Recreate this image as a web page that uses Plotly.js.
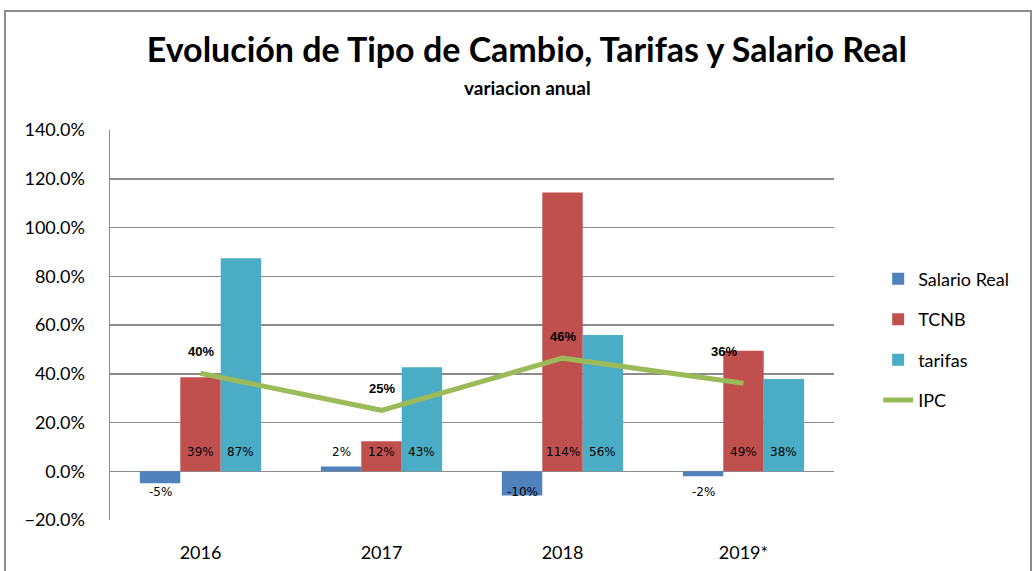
<!DOCTYPE html>
<html><head><meta charset="utf-8">
<script src="https://cdn.plot.ly/plotly-3.0.1.min.js"></script>
<style>
body{margin:0;background:#fff;}
#chart{width:1035px;height:571px;}
#frame{position:absolute;left:4px;top:10px;width:1024px;height:600px;border:2px solid #8c8c8c;pointer-events:none;}
</style></head>
<body>
<div id="chart"></div>
<div id="frame"></div>
<script>
const years = ['2016', '2017', '2018', '2019*'];
const salarioReal = [-4.9, 2.0, -9.9, -2.0];
const tcnb = [38.6, 12.3, 114.4, 49.4];
const tarifas = [87.4, 42.7, 55.9, 37.8];
const ipc = [40.2, 25.0, 46.4, 36.1];

const fontMain = 'Lato, "Open Sans", sans-serif';
const colors = {sal: '#4F81BD', tcnb: '#C0504D', tar: '#4BACC6', ipc: '#9BBB59'};

const traces = [
  {type: 'bar', name: 'Salario Real', x: years, y: salarioReal, marker: {color: colors.sal}, legendgroup: 'a', hoverinfo: 'y'},
  {type: 'bar', name: 'TCNB', x: years, y: tcnb, marker: {color: colors.tcnb}, legendgroup: 'b', hoverinfo: 'y'},
  {type: 'bar', name: 'tarifas', x: years, y: tarifas, marker: {color: colors.tar}, legendgroup: 'c', hoverinfo: 'y'},
  {type: 'scatter', mode: 'lines', name: 'IPC', x: years, y: ipc, line: {color: colors.ipc, width: 5}, legendgroup: 'd', hoverinfo: 'y'}
];

const pct = v => Math.round(v) + '%';
const annotations = [];
const barFont = {family: '"DejaVu Sans", sans-serif', size: 12, color: '#000'};
[[salarioReal, -40], [tcnb, 0], [tarifas, 40]].forEach(([arr, dx]) => {
  arr.forEach((v, i) => {
    annotations.push({x: i, y: 0, xref: 'x', yref: 'y', text: pct(v), showarrow: false,
      xshift: dx, yshift: v >= 0 ? 19 : -21, font: barFont});
  });
});
ipc.forEach((v, i) => {
  const last = i === ipc.length - 1;
  annotations.push({x: i, y: v, xref: 'x', yref: 'y', text: '<b>' + pct(v) + '</b>', showarrow: false,
    xshift: last ? -20 : 0, yshift: last ? 32 : 22,
    font: {family: '"Liberation Sans", sans-serif', size: 13, color: '#000'}});
});
annotations.push({xref: 'paper', yref: 'paper', x: 0.576, y: 1.11, xanchor: 'center', yanchor: 'middle',
  text: '<b>variacion anual</b>', showarrow: false, font: {family: fontMain, size: 19, color: '#000'}});

const layout = {
  width: 1035, height: 571,
  margin: {l: 110, r: 201, t: 130, b: 51},
  paper_bgcolor: '#fff', plot_bgcolor: '#fff',
  title: {text: '<b>Evolución de Tipo de Cambio, Tarifas y Salario Real</b>',
    x: 0.509, xanchor: 'center', y: 0.912, yanchor: 'middle',
    font: {family: fontMain, size: 34, color: '#000'}},
  barmode: 'group', bargap: 0.33, bargroupgap: 0,
  showlegend: true,
  legend: {x: 1.061, y: 0.665, xanchor: 'left', yanchor: 'top', traceorder: 'grouped', tracegroupgap: 14,
    font: {family: fontMain, size: 18, color: '#000'}, bgcolor: 'rgba(0,0,0,0)'},
  xaxis: {type: 'category', range: [-0.5, 3.5], showgrid: false, showline: false, zeroline: false, ticks: '',
    tickfont: {family: fontMain, size: 18, color: '#000'}, ticklabelstandoff: 20},
  yaxis: {range: [-20, 140], dtick: 20, tick0: 0, ticksuffix: '%', tickformat: '.1f',
    showgrid: true, gridcolor: '#8c8c8c', gridwidth: 1.5,
    zeroline: true, zerolinecolor: '#8c8c8c', zerolinewidth: 1.5,
    showline: true, linecolor: '#8c8c8c', linewidth: 1.5, ticks: '',
    tickfont: {family: fontMain, size: 18, color: '#000'}, ticklabelstandoff: 20},
  annotations: annotations
};

Plotly.newPlot('chart', traces, layout, {displayModeBar: false, staticPlot: true});
</script>
</body></html>
